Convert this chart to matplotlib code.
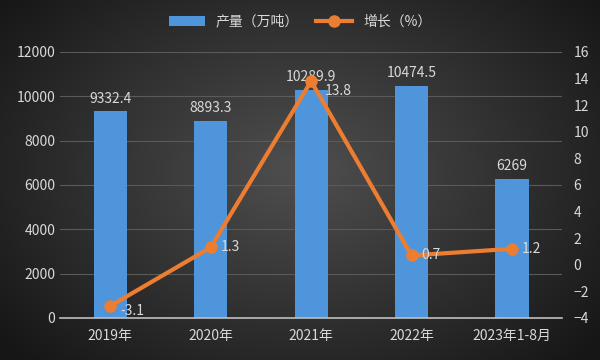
import numpy as np
import matplotlib.pyplot as plt

plt.rcParams['font.family'] = ['Noto Sans CJK SC', 'DejaVu Sans']

years = ["2019年", "2020年", "2021年", "2022年", "2023年1-8月"]
output = [9332.4, 8893.3, 10289.9, 10474.5, 6269]
growth = [-3.1, 1.3, 13.8, 0.7, 1.2]

fig = plt.figure(figsize=(6, 3.6), dpi=100)

# dark radial background
bg = fig.add_axes([0, 0, 1, 1])
yy, xx = np.mgrid[0:360, 0:600]
r = np.sqrt(((xx - 300) / 330.0) ** 2 + ((yy - 170) / 230.0) ** 2)
shade = np.clip(0.31 - 0.19 * r, 0.09, 0.31)
bg.imshow(np.dstack([shade, shade, shade]), aspect='auto', extent=[0, 1, 0, 1])
bg.axis('off')

ax = fig.add_axes([0.1, 0.1167, 0.837, 0.739])
ax.patch.set_alpha(0)
x = np.arange(len(years))
bars = ax.bar(x, output, width=0.33, color='#4f95dc', zorder=2, label='产量（万吨）')
ax.set_ylim(0, 12000)
ax.set_xlim(-0.5, len(years) - 0.5)
ax.set_yticks(range(0, 12001, 2000))
ax.grid(axis='y', color='#5a5a5a', linewidth=0.8, zorder=0)
for s in ['top', 'right', 'left']:
    ax.spines[s].set_visible(False)
ax.spines['bottom'].set_color('#bfbfbf')
ax.spines['bottom'].set_linewidth(1.2)
ax.tick_params(colors='#d9d9d9', labelsize=10, length=0)
ax.tick_params(axis='x', pad=8)
ax.set_xticks(x)
ax.set_xticklabels(years)

for i, v in enumerate(output):
    ax.text(i, v + 250, f"{v:g}", ha='center', va='bottom', color='#d9d9d9', fontsize=10, zorder=5)

ax2 = ax.twinx()
ax2.plot(x, growth, color='#ed7d31', linewidth=3, marker='o', markersize=8, zorder=4, label='增长（%）')
ax2.set_ylim(-4, 16)
ax2.set_yticks(range(-4, 17, 2))
for s in ['top', 'right', 'left', 'bottom']:
    ax2.spines[s].set_visible(False)
ax2.tick_params(colors='#d9d9d9', labelsize=10, length=0, pad=8)

offsets = [(0.1, -0.4), (0.1, 0.0), (0.14, -0.7), (0.1, 0.0), (0.1, 0.0)]
for i, v in enumerate(growth):
    dx, dy = offsets[i]
    ax2.text(i + dx, v + dy, f"{v:g}", ha='left', va='center', color='#d9d9d9', fontsize=10, zorder=5)

h1, l1 = ax.get_legend_handles_labels()
h2, l2 = ax2.get_legend_handles_labels()
leg = fig.legend(h1 + h2, l1 + l2, loc='center', bbox_to_anchor=(0.5, 0.94), ncol=2,
                 frameon=False, fontsize=10, handlelength=2.6, columnspacing=1.2)
for t in leg.get_texts():
    t.set_color('#d9d9d9')

fig.savefig('out.png', dpi=100)
